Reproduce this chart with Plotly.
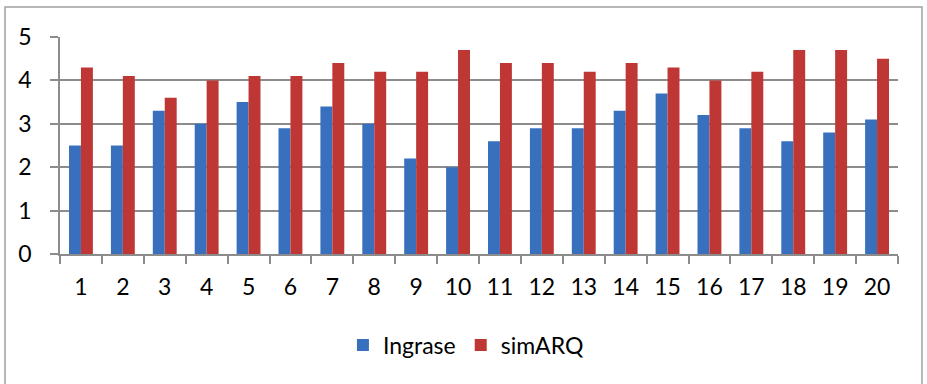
import plotly.graph_objects as go

categories = [str(i) for i in range(1, 21)]
ingrase = [2.5, 2.5, 3.3, 3.0, 3.5, 2.9, 3.4, 3.0, 2.2, 2.0, 2.6, 2.9, 2.9, 3.3, 3.7, 3.2, 2.9, 2.6, 2.8, 3.1]
simarq = [4.3, 4.1, 3.6, 4.0, 4.1, 4.1, 4.4, 4.2, 4.2, 4.7, 4.4, 4.4, 4.2, 4.4, 4.3, 4.0, 4.2, 4.7, 4.7, 4.5]
y_ticks = [0, 1, 2, 3, 4, 5]

FONT = "Lato"

fig = go.Figure()
fig.add_trace(go.Bar(x=categories, y=ingrase, name="Ingrase",
                     marker=dict(color="#3870BE", line=dict(width=0))))
fig.add_trace(go.Bar(x=categories, y=simarq, name="simARQ",
                     marker=dict(color="#BE3734", line=dict(width=0))))

fig.update_layout(
    width=927, height=384,
    margin=dict(l=60, r=29, t=37, b=130),
    paper_bgcolor="white", plot_bgcolor="white",
    barmode="group", bargap=0.43, bargroupgap=0,
    font=dict(family=FONT, size=23, color="black"),
    showlegend=True,
    legend=dict(orientation="h", x=0.485, xanchor="center", y=-0.42, yanchor="middle",
                font=dict(family=FONT, size=23, color="black"),
                itemwidth=30, bgcolor="rgba(0,0,0,0)", traceorder="normal"),
    xaxis=dict(type="category", showgrid=False, showline=True, linecolor="#8c8c8c", linewidth=1.5,
               ticks="outside", tickson="boundaries", ticklen=8, tickcolor="#8c8c8c", tickwidth=1.5,
               tickfont=dict(family=FONT, size=23), ticklabelstandoff=12),
    yaxis=dict(range=[0, 5], tickvals=y_ticks, showgrid=True, gridcolor="#8c8c8c", gridwidth=1.5,
               showline=True, linecolor="#8c8c8c", linewidth=1.5, zeroline=False,
               ticks="outside", ticklen=8, tickcolor="#8c8c8c", tickwidth=1.5,
               tickfont=dict(family=FONT, size=23), ticklabelstandoff=14),
)

fig.add_shape(type="rect", xref="paper", yref="paper",
              x0=-0.0656, x1=1.0286, y0=-0.7, y1=1.138,
              line=dict(color="#a0a0a0", width=1.5), fillcolor="rgba(0,0,0,0)", layer="below")

fig.write_html("out.html", config={"displayModeBar": False},
               post_script="document.body.style.margin='0';")
